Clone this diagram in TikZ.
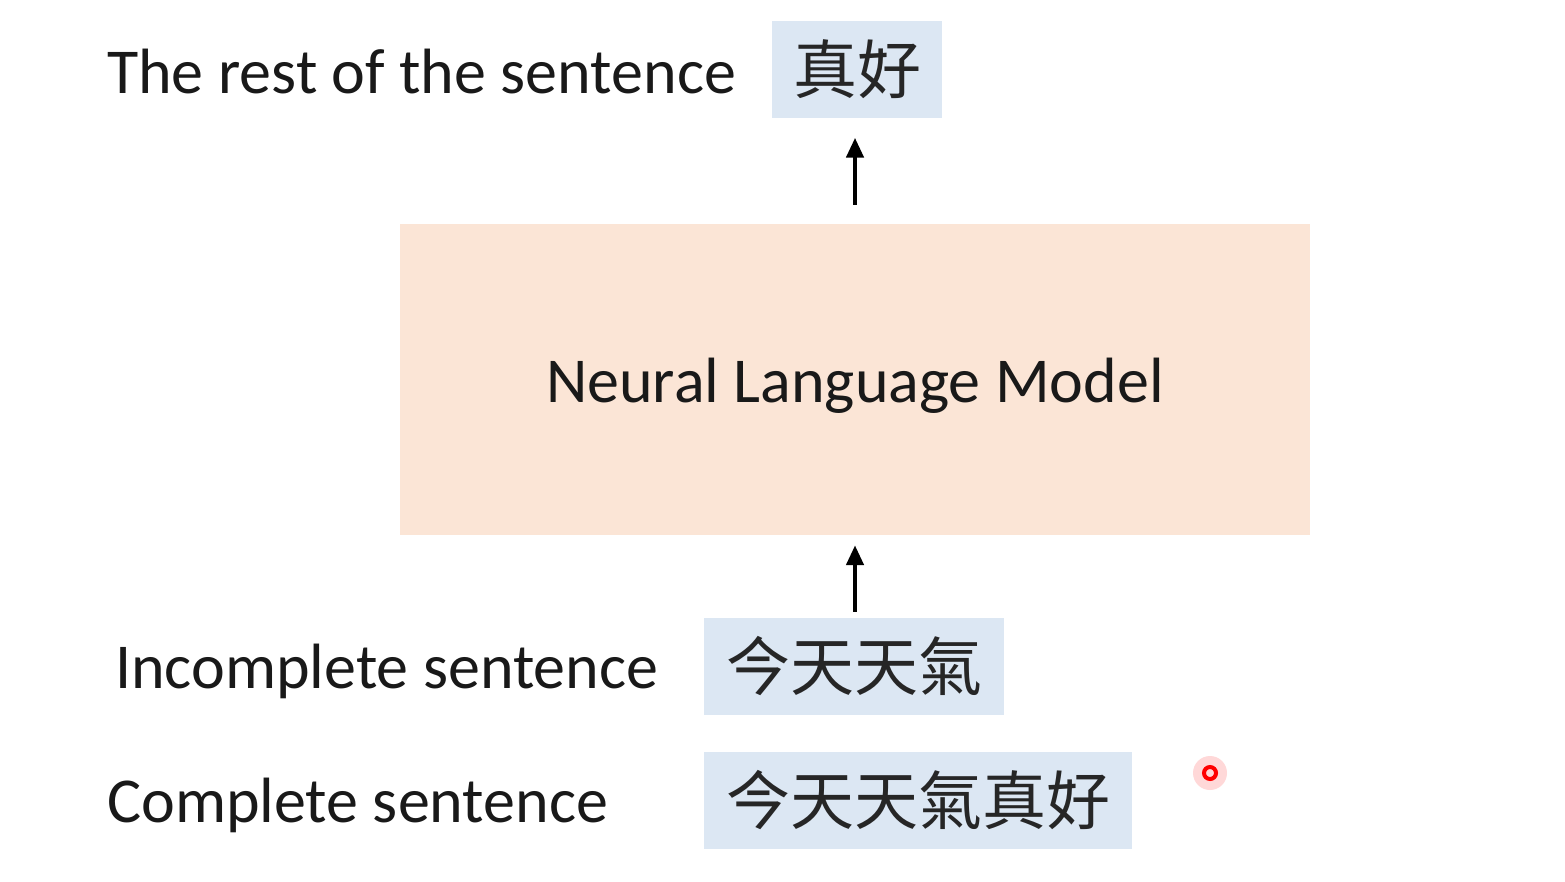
\documentclass[tikz,border=0pt]{standalone}
\usepackage{fontspec}
\setmainfont{Carlito}
\newfontfamily\cjk{Noto Sans CJK TC}
\usetikzlibrary{arrows.meta}
\definecolor{boxblue}{HTML}{DCE7F3}
\definecolor{boxorange}{HTML}{FBE5D6}
\begin{document}
\begin{tikzpicture}[x=1pt,y=-1pt,
  lab/.style={font=\fontsize{64}{76}\selectfont, anchor=base west, inner sep=0pt, text=black!90},
  cbox/.style={fill=boxblue, font=\cjk\fontsize{64}{76}\selectfont, inner sep=0pt, anchor=center, minimum height=97pt, text=black!85},
  arr/.style={-{Triangle[length=20pt,width=17pt]}, line width=4.5pt}]
\useasboundingbox[fill=white] (0,0) rectangle (1565,881);
% model box
\node[fill=boxorange, minimum width=910pt, minimum height=311pt, inner sep=0pt] (nlm) at (855,379.5) {};
\node[font=\fontsize{64}{76}\selectfont, anchor=base, inner sep=0pt, text=black!90] (nlmtext) at (855,402) {Neural Language Model};
% output
\node[cbox, minimum width=170pt] (rest) at (857,69) {真好};
\node[lab] (restlab) at (107,93) {The rest of the sentence};
% inputs
\node[cbox, minimum width=300pt] (inc) at (854,666.5) {今天天氣};
\node[lab] (inclab) at (115,688) {Incomplete sentence};
\node[cbox, minimum width=428pt] (comp) at (918,800.5) {今天天氣真好};
\node[lab] (complab) at (107,822) {Complete sentence};
% arrows
\draw[arr, shorten <=19pt, shorten >=20pt] (nlm.north) -- (nlm.north |- rest.south);
\draw[arr, shorten <=6pt, shorten >=10pt] (nlm.south |- inc.north) -- (nlm.south);
% pointer dot
\fill[red!25, opacity=0.6] (1210,773) circle (17pt);
\draw[red, line width=4pt] (1210,773) circle (6pt);
\end{tikzpicture}
\end{document}
